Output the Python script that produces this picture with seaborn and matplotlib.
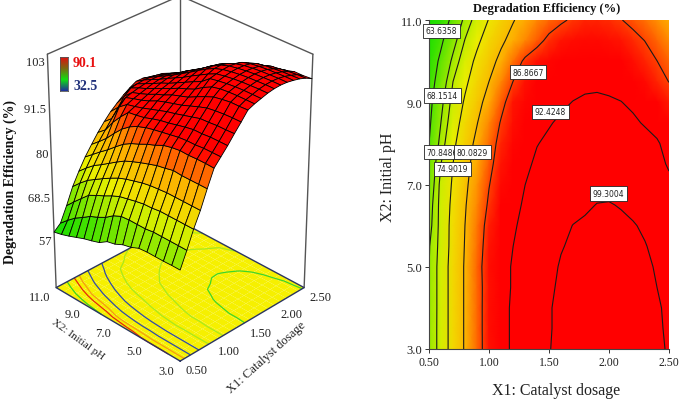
# Degradation efficiency response surface, 3D view and contour view
import numpy as np
import pandas as pd
import matplotlib
matplotlib.use("Agg")
import matplotlib.pyplot as plt
from matplotlib.colors import Normalize
import seaborn as sns

x1_values = [0.5, 0.6, 0.7, 0.8, 0.9, 1.0, 1.1, 1.2, 1.3, 1.4, 1.5, 1.6, 1.7, 1.8, 1.9, 2.0, 2.1, 2.2, 2.3, 2.4, 2.5]
ph_values = [11.0, 10.5, 10.0, 9.5, 9.0, 8.5, 8.0, 7.5, 7.0, 6.5, 6.0, 5.5, 5.0, 4.5, 4.0, 3.5, 3.0]

# values, one list per pH
ph_110 = [59.5, 61.0, 64.8, 69.0, 72.2, 75.1, 77.5, 79.8, 81.8, 83.6, 85.0, 86.3, 87.4, 88.3, 88.3, 87.9, 87.0, 85.9, 84.7, 83.2, 81.5]
ph_105 = [60.0, 62.9, 66.9, 71.0, 74.1, 76.8, 79.3, 81.5, 83.6, 85.7, 87.8, 89.1, 89.4, 89.6, 89.5, 89.3, 89.0, 88.0, 86.8, 85.2, 83.4]
ph_100 = [60.7, 64.6, 68.9, 72.8, 75.8, 78.5, 81.2, 84.5, 87.6, 89.2, 89.7, 90.1, 90.4, 90.7, 90.7, 90.4, 90.0, 89.3, 88.3, 86.9, 85.2]
ph_095 = [61.5, 65.9, 70.85, 74.1, 77.1, 80.1, 83.5, 86.9, 89.2, 89.9, 90.4, 90.9, 91.4, 91.7, 91.8, 91.6, 91.1, 90.4, 89.5, 88.3, 86.8]
ph_090 = [62.3, 67.3, 71.9, 75.4, 78.5, 81.9, 85.6, 89.0, 89.7, 90.5, 91.2, 91.9, 92.5, 92.9, 93.0, 92.8, 92.5, 91.8, 91.0, 89.9, 88.8]
ph_085 = [62.9, 68.2, 72.9, 76.6, 79.9, 83.6, 87.2, 89.3, 90.3, 91.3, 92.2, 92.9, 93.4, 94.0, 94.3, 94.2, 93.8, 93.0, 92.1, 91.2, 90.0]
ph_080 = [63.6, 69.3, 74.0, 77.7, 81.2, 84.8, 88.3, 89.7, 91.0, 92.3, 93.0, 93.8, 94.5, 95.1, 95.6, 95.5, 95.1, 94.5, 93.7, 92.8, 91.2]
ph_075 = [65.0, 70.85, 74.9, 78.5, 82.1, 85.7, 89.0, 90.4, 91.7, 93.0, 94.0, 94.9, 95.6, 96.4, 97.0, 96.9, 96.6, 96.0, 95.0, 93.8, 91.9]
ph_070 = [65.5, 71.8, 75.4, 79.1, 82.9, 86.7, 89.5, 91.0, 92.4, 93.6, 94.7, 95.7, 96.7, 97.6, 98.3, 98.3, 98.0, 97.4, 96.6, 95.2, 93.4]
ph_065 = [66.5, 72.0, 75.9, 79.7, 83.6, 87.5, 89.9, 91.4, 92.9, 94.2, 95.4, 96.6, 97.7, 98.8, 99.4, 99.5, 99.1, 98.3, 97.2, 95.9, 94.4]
ph_060 = [67.0, 72.0, 76.3, 80.1, 84.3, 88.5, 90.3, 91.9, 93.5, 95.0, 96.5, 98.0, 99.4, 99.8, 100.1, 100.2, 100.0, 99.6, 98.7, 97.4, 95.9]
ph_055 = [67.9, 72.0, 76.4, 80.3, 84.7, 89.0, 90.7, 92.4, 94.1, 95.8, 97.5, 99.1, 99.8, 100.2, 100.5, 100.6, 100.5, 100.2, 99.5, 98.3, 96.8]
ph_050 = [68.1, 72.3, 76.7, 80.5, 85.2, 89.3, 90.9, 92.8, 94.7, 96.5, 98.4, 99.6, 100.1, 100.5, 100.8, 100.9, 100.8, 100.5, 99.9, 99.0, 97.6]
ph_045 = [68.1, 72.3, 76.7, 80.5, 85.0, 89.2, 90.9, 92.8, 94.8, 96.8, 98.8, 99.8, 100.3, 100.7, 101.0, 101.1, 101.0, 100.7, 100.1, 99.3, 98.2]
ph_040 = [68.1, 72.3, 76.7, 80.5, 85.0, 89.3, 91.1, 93.0, 95.0, 97.0, 99.1, 99.9, 100.4, 100.8, 101.1, 101.2, 101.1, 100.8, 100.3, 99.6, 98.8]
ph_035 = [68.2, 72.3, 76.7, 80.5, 85.0, 89.3, 91.1, 93.0, 95.0, 97.1, 99.1, 99.9, 100.4, 100.9, 101.2, 101.3, 101.2, 100.9, 100.4, 99.8, 98.8]
ph_030 = [68.2, 72.3, 76.7, 80.5, 85.0, 89.2, 91.1, 93.0, 95.1, 97.1, 99.2, 99.9, 100.4, 100.9, 101.2, 101.3, 101.2, 100.9, 100.5, 99.9, 99.0]

contour_levels = [63.6358, 68.1514, 70.8486, 74.9019, 80.0829, 86.8667, 92.4248, 99.3004]
floor_colours = ["#39d31f", "#e8280a", "#f59a14", "#2f4aa8", "#2f4aa8", "#a8e81e", "#a8e81e", "#3fd62a"]
label_x = [0.603, 0.611, 0.611, 0.694, 0.861, 1.325, 1.511, 1.992]
label_ph = [10.74, 9.16, 7.79, 7.38, 7.79, 9.73, 8.77, 6.78]

x_ticks = [0.5, 1.0, 1.5, 2.0, 2.5]
ph_ticks = [3.0, 5.0, 7.0, 9.0, 11.0]
z_ticks = [57, 68.5, 80, 91.5, 103]

sns.set_theme(style="white")
plt.rcParams["font.family"] = ["Liberation Serif", "DejaVu Serif"]

grid = np.array([ph_110, ph_105, ph_100, ph_095, ph_090, ph_085, ph_080, ph_075, ph_070,
                 ph_065, ph_060, ph_055, ph_050, ph_045, ph_040, ph_035, ph_030])
df = pd.DataFrame(grid, index=ph_values, columns=x1_values)

kleur = sns.blend_palette(["#00dc00", "#78e600", "#ebf000", "#ffaa00", "#ff0000"], as_cmap=True)
norm = Normalize(58, 90)

fig = plt.figure(figsize=(6.85, 4.02), dpi=100)

# 3D surface
Z_BUNN = 44.3
Z_TOPP = 105
ax3d = fig.add_axes([-15 / 685, 31 / 402, 380 / 685, 380 / 402], projection="3d", computed_zorder=False)
X, Y = np.meshgrid(x1_values, ph_values[::-1])
Z = df.values[::-1]
ax3d.set_xlim(0.5, 2.5)
ax3d.set_ylim(3, 11)
ax3d.set_zlim(Z_BUNN, Z_TOPP)
ax3d.set_box_aspect((1, 1, 1.5), zoom=0.955)
ax3d.set_proj_type("persp", focal_length=1.0)
ax3d.view_init(elev=31, azim=-135)
ax3d.set_axis_off()

# box edges behind the surface
for px, py in [(0.5, 11), (2.5, 11), (2.5, 3)]:
    ax3d.plot([px, px], [py, py], [Z_BUNN, Z_TOPP], color="#555555", lw=1, zorder=1)
ax3d.plot([0.5, 2.5, 2.5], [11, 11, 3], [Z_TOPP] * 3, color="#555555", lw=1, zorder=1)

ax3d.plot_surface(X, Y, np.full(X.shape, Z_BUNN), color="#f6f000", shade=False, linewidth=0, zorder=2)
ax3d.contour(X, Y, Z, levels=contour_levels, colors=floor_colours, zdir="z", offset=Z_BUNN, linewidths=0.9, zorder=3)
ax3d.plot([0.5, 2.5, 2.5, 0.5, 0.5], [3, 3, 11, 11, 3], [Z_BUNN] * 5, color="#2a3560", lw=1, zorder=4)
ax3d.plot_surface(X, Y, Z, facecolors=kleur(norm(Z)), rstride=1, cstride=1, edgecolor="black",
                  linewidth=0.6, shade=False, zorder=5)

for t in x_ticks:
    ax3d.text(t, 3 - 0.35, Z_BUNN, f"{t:.2f}", ha="left", va="top", fontsize=9, color="#222222")
for t in ph_ticks:
    ax3d.text(0.5 - 0.09, t, Z_BUNN, f"{t:.1f}", ha="right", va="top", fontsize=9, color="#222222")
for t in z_ticks:
    ax3d.text(0.5, 11, t, f"{t:g} ", ha="right", va="center", fontsize=9, color="#222222")

fig.text(10 / 685, 1 - 182 / 402, "Degradation Efficiency (%)", rotation=90, ha="center", va="center",
         fontsize=10, fontweight="bold", color="#111111")
fig.text(78 / 685, 1 - 340 / 402, "X2: Initial pH", rotation=-36, ha="center", va="center", fontsize=8, color="#222222")
fig.text(267 / 685, 1 - 358 / 402, "X1: Catalyst dosage", rotation=42, ha="center", va="center", fontsize=9, color="#222222")

# small legend bar
ax_bar = fig.add_axes([60 / 685, 1 - 92 / 402, 8 / 685, 34 / 402])
bar_kart = sns.blend_palette(["#1f2f9a", "#10e010", "#7a6a10", "#e01010"], as_cmap=True)
ax_bar.imshow(np.linspace(1, 0, 64)[:, None], cmap=bar_kart, aspect="auto")
ax_bar.set_xticks([])
ax_bar.set_yticks([])
for s in ax_bar.spines.values():
    s.set_linewidth(0.6)
    s.set_color("#555555")
fig.text(73 / 685, 1 - 64 / 402, "90.1", color="#e81010", fontsize=10, fontweight="bold", va="center")
fig.text(74 / 685, 1 - 86 / 402, "32.5", color="#20307a", fontsize=10, fontweight="bold", va="center")

# contour plot
ax = fig.add_axes([429 / 685, 1 - 350 / 402, 240 / 685, 329 / 402])
sns.heatmap(df, cmap=kleur, vmin=58, vmax=90, cbar=False, ax=ax, shading="gouraud",
            xticklabels=False, yticklabels=False)
ax.set_xlim(0, len(x1_values) - 1)
ax.set_ylim(len(ph_values) - 1, 0)


def til_kol(x):
    return (np.asarray(x) - x1_values[0]) / 0.1


def til_rad(p):
    return (ph_values[0] - np.asarray(p)) / 0.5


ax.contour(np.arange(len(x1_values)), np.arange(len(ph_values)), df.values, levels=contour_levels,
           colors="#1a1a1a", linewidths=0.8)
for lx, lp, lv in zip(label_x, label_ph, contour_levels):
    ax.text(til_kol(lx), til_rad(lp), f"{lv:.4f}", family=["Liberation Sans Narrow", "DejaVu Sans"], fontsize=5.5,
            ha="center", va="center", color="#222222",
            bbox=dict(boxstyle="square,pad=0.35", fc="white", ec="#222222", lw=0.6))

ax.set_xticks(til_kol(x_ticks))
ax.set_xticklabels([f"{t:.2f}" for t in x_ticks], fontsize=8.5, rotation=0)
ax.set_yticks(til_rad(ph_ticks))
ax.set_yticklabels([f"{t:.1f}" for t in ph_ticks], fontsize=9, rotation=0)
ax.tick_params(length=3, width=0.7, color="#333333", pad=2, bottom=True, left=True, labelcolor="#222222")
for s in ["left", "bottom"]:
    ax.spines[s].set_visible(True)
    ax.spines[s].set_linewidth(0.8)
    ax.spines[s].set_color("#444444")
fig.text(547 / 685, 1 - 9 / 402, "Degradation Efficiency (%)", ha="center", va="center", fontsize=9,
         fontweight="bold", color="#111111")
fig.text(556 / 685, 1 - 391 / 402, "X1: Catalyst dosage", ha="center", va="center", fontsize=11.5, color="#222222")
fig.text(388 / 685, 1 - 177 / 402, "X2: Initial pH", rotation=90, ha="center", va="center", fontsize=11.5, color="#222222")

fig.savefig("out.png", dpi=100)
